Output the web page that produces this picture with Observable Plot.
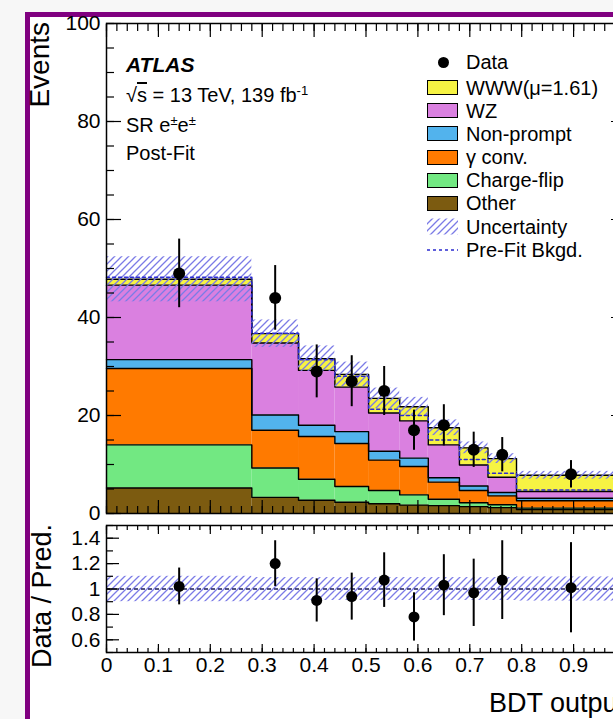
<!DOCTYPE html>
<html><head><meta charset="utf-8">
<script src="https://cdn.jsdelivr.net/npm/d3@7"></script>
<script src="https://cdn.jsdelivr.net/npm/@observablehq/plot@0.6"></script>
<style>
html,body{margin:0;padding:0;overflow:hidden;background:#f7f7f7;}
#page{position:relative;width:613px;height:719px;overflow:hidden;font-family:"Liberation Sans",Arial,Helvetica,sans-serif;color:#000;}
#border{position:absolute;left:25px;top:12px;width:800px;height:900px;border-left:5px solid #800080;border-top:5px solid #800080;background:#fff;}
.t{position:absolute;white-space:nowrap;line-height:0;}
.sw{position:absolute;box-sizing:border-box;border:1.5px solid #000;}
sup{font-size:65%;vertical-align:0;position:relative;top:-0.55em;line-height:0;}
</style></head><body>
<div id="page">
<div id="border"></div>
<svg width="0" height="0" style="position:absolute;left:0;top:0">
 <defs><pattern id="hatch" patternUnits="userSpaceOnUse" width="7" height="7">
  <path d="M0,7L7,0M-1,1L1,-1M6,8L8,6" stroke="#7b7be6" stroke-width="1.3" fill="none"/>
 </pattern></defs>
</svg>
</div>
<script>
// ---- data ----
const binEdges = [0, 0.28, 0.37, 0.44, 0.505, 0.565, 0.62, 0.68, 0.735, 0.79, 1.0];
const components = ["Other", "Charge-flip", "γ conv.", "Non-prompt", "WZ", "WWW(μ=1.61)"];
const compColors = ["#7c5b10", "#72e882", "#ff7a00", "#52b3ed", "#da80e0", "#f6f343"];
const other      = [5.2, 3.3, 2.7, 2.3, 2.0, 1.7, 1.6, 1.4, 1.2, 0.8];
const chargeFlip = [8.8, 6.0, 4.3, 3.2, 2.7, 2.1, 1.3, 0.8, 0.6, 0.3];
const gammaConv  = [15.6, 7.7, 8.7, 8.8, 6.2, 5.8, 3.5, 2.5, 1.8, 1.5];
const nonPrompt  = [1.8, 3.1, 2.3, 2.4, 1.8, 1.7, 0.9, 0.9, 0.7, 0.5];
const wz         = [15.2, 14.7, 11.2, 9.1, 7.8, 7.6, 6.7, 4.3, 3.1, 1.4];
const www        = [1.2, 1.9, 2.4, 2.6, 3.0, 2.9, 3.5, 3.5, 3.8, 3.3];
const dataEvents = [49, 44, 29, 27, 25, 17, 18, 13, 12, 8];
const dataErr    = [7.0, 6.6, 5.4, 5.2, 5.0, 4.1, 4.2, 3.6, 3.5, 2.8];
const predUnc    = [4.6, 2.8, 2.6, 2.5, 2.1, 1.9, 1.6, 1.2, 1.0, 0.8];
const preFitBkg  = [48.2, 36.8, 31.4, 28.0, 21.3, 20.0, 15.0, 11.0, 8.2, 4.8];
const ratioVals  = [1.02, 1.20, 0.91, 0.94, 1.07, 0.78, 1.03, 0.97, 1.07, 1.01];
const ratioErr   = [0.145, 0.18, 0.17, 0.185, 0.215, 0.19, 0.24, 0.265, 0.31, 0.355];
const ratioUnc   = [0.10, 0.09, 0.09, 0.09, 0.09, 0.09, 0.09, 0.09, 0.09, 0.095];
const ratioRef   = [1];
const xMajor = [0, 0.1, 0.2, 0.3, 0.4, 0.5, 0.6, 0.7, 0.8, 0.9, 1];
const xLabels = [0, 0.1, 0.2, 0.3, 0.4, 0.5, 0.6, 0.7, 0.8, 0.9];
const xMinor = d3.range(0, 1.001, 0.02);
const yMajor = [0, 20, 40, 60, 80, 100];
const yMinor = d3.range(0, 101, 5);
const rMajor = [0.6, 0.8, 1, 1.2, 1.4];
const rMinor = [0.5, 0.6, 0.7, 0.8, 0.9, 1.0, 1.1, 1.2, 1.3, 1.4, 1.5];

// ---- tables ----
const series = [other, chargeFlip, gammaConv, nonPrompt, wz, www];
const nb = dataEvents.length;
const stackRows = [];
for (let b = 0; b < nb; b++) for (let s = 0; s < series.length; s++)
  stackRows.push({x1: binEdges[b], x2: binEdges[b + 1], comp: components[s], value: series[s][b]});
const stepRows = [];
for (let e = 0; e <= nb; e++) { const b = Math.min(e, nb - 1);
  for (let s = 0; s < series.length; s++) stepRows.push({x: binEdges[e], comp: components[s], value: series[s][b]}); }
const prefitRows = binEdges.map((x, e) => ({x, y: preFitBkg[Math.min(e, nb - 1)]}));
const bins = d3.range(nb).map(b => ({
  x1: binEdges[b], x2: binEdges[b + 1], xc: (binEdges[b] + binEdges[b + 1]) / 2,
  total: d3.sum(series, s => s[b]), unc: predUnc[b],
  data: dataEvents[b], err: dataErr[b],
  ratio: ratioVals[b], rErr: ratioErr[b], rUnc: ratioUnc[b]
}));

const FONT = '"Liberation Sans", Arial, Helvetica, sans-serif';
const W = 640;
function ticksIn(scale, anchor, ticks, size, extra = {}) {
  const ax = scale === "x" ? Plot.axisX : Plot.axisY;
  return ax({anchor, ticks, tickSize: -size, fill: "none", stroke: "black", strokeWidth: 1.2, label: null, ...extra});
}

const mainPlot = Plot.plot({
  width: W, height: 519,
  marginLeft: 106, marginRight: 15, marginTop: 23, marginBottom: 6,
  x: {domain: [0, 1]},
  y: {domain: [0, 100]},
  color: {domain: components, range: compColors},
  marks: [
    Plot.rectY(stackRows, {x1: "x1", x2: "x2", y: "value", fill: "comp"}),
    Plot.lineY(stepRows, Plot.stackY2({x: "x", y: "value", z: "comp", curve: "step-after", stroke: "black", strokeWidth: 1.4})),
    Plot.rect(bins, {x1: "x1", x2: "x2", y1: d => d.total - d.unc, y2: d => d.total + d.unc, fill: "url(#hatch)"}),
    Plot.line(prefitRows, {x: "x", y: "y", curve: "step-after", stroke: "#2b2bd0", strokeWidth: 1.5, strokeDasharray: "3,3"}),
    Plot.ruleX(bins, {x: "xc", y1: d => d.data - d.err, y2: d => d.data + d.err, stroke: "black", strokeWidth: 2}),
    Plot.dot(bins, {x: "xc", y: "data", r: 6, fill: "black"}),
    Plot.axisY({anchor: "left", ticks: yMajor, tickSize: 0, tickPadding: 6, tickFormat: d => String(d), label: null, fontSize: 21}),
    ticksIn("y", "left", yMajor, 15), ticksIn("y", "left", yMinor, 8),
    ticksIn("y", "right", yMajor, 15), ticksIn("y", "right", yMinor, 8),
    ticksIn("x", "bottom", xMajor, 13), ticksIn("x", "bottom", xMinor, 7),
    ticksIn("x", "top", xMajor, 13), ticksIn("x", "top", xMinor, 7),
    Plot.frame({stroke: "black", strokeWidth: 1.5})
  ]
});

const ratioPlot = Plot.plot({
  width: W, height: 200,
  marginLeft: 106, marginRight: 15, marginTop: 6, marginBottom: 67,
  x: {domain: [0, 1]},
  y: {domain: [0.5, 1.5]},
  marks: [
    Plot.rect(bins, {x1: "x1", x2: "x2", y1: d => 1 - d.rUnc, y2: d => 1 + d.rUnc, fill: "url(#hatch)"}),
    Plot.ruleY(ratioRef, {stroke: "#1c1c55", strokeWidth: 1.5, strokeDasharray: "4,3"}),
    Plot.ruleX(bins, {x: "xc", y1: d => d.ratio - d.rErr, y2: d => d.ratio + d.rErr, stroke: "black", strokeWidth: 2}),
    Plot.dot(bins, {x: "xc", y: "ratio", r: 5.5, fill: "black"}),
    Plot.axisY({anchor: "left", ticks: rMajor, tickSize: 0, tickPadding: 6, tickFormat: d => String(d), label: null, fontSize: 21}),
    Plot.axisX({anchor: "bottom", ticks: xLabels, tickSize: 0, tickPadding: 5, tickFormat: d => String(d), label: null, fontSize: 21}),
    ticksIn("y", "left", rMajor, 13), ticksIn("y", "left", rMinor, 7),
    ticksIn("y", "right", rMajor, 13), ticksIn("y", "right", rMinor, 7),
    ticksIn("x", "bottom", xMajor, 8), ticksIn("x", "bottom", xMinor, 4),
    ticksIn("x", "top", xMajor, 8), ticksIn("x", "top", xMinor, 4),
    Plot.frame({stroke: "black", strokeWidth: 1.5})
  ]
});

const page = document.getElementById("page");
[[mainPlot, 0], [ratioPlot, 519]].forEach(([svg, top]) => {
  Object.assign(svg.style, {position: "absolute", left: "0px", top: top + "px", maxWidth: "none",
    background: "transparent", fontFamily: FONT, fontSize: "21px", color: "#000", overflow: "visible"});
  page.appendChild(svg);
});

// ---- annotations & legend ----
function txt(html, x, base, fs, extra = "") {
  const d = document.createElement("div");
  d.className = "t";
  d.style.cssText = `left:${x}px;top:${base - 0.3465 * fs}px;font-size:${fs}px;${extra}`;
  d.innerHTML = html;
  page.appendChild(d);
  return d;
}
function vtxt(html, xBase, yEnd, fs) {
  const w = 300;
  const d = document.createElement("div");
  d.className = "t";
  d.style.cssText = `left:${xBase - 0.3465 * fs}px;top:${yEnd + w}px;width:${w}px;text-align:right;font-size:${fs}px;transform-origin:0 0;transform:rotate(-90deg);`;
  d.innerHTML = html;
  page.appendChild(d);
}
vtxt("Events", 50, 22, 28);
vtxt("Data / Pred.", 51, 524, 27);
txt("BDT output", 625, 712, 27, "transform:translateX(-100%);");

txt("<b><i>ATLAS</i></b>", 126, 72, 21);
txt('√<span style="text-decoration:overline">s</span> = 13 TeV, 139 fb<sup>-1</sup>', 126, 102, 20);
txt("SR e<sup>±</sup>e<sup>±</sup>", 126, 132, 20);
txt("Post-Fit", 126, 160, 20);

const legendRows = [62, 87.5, 110.5, 133.5, 157, 180, 203, 226.5, 250];
const legendLabels = ["Data", "WWW(μ=1.61)", "WZ", "Non-prompt", "γ conv.", "Charge-flip", "Other", "Uncertainty", "Pre-Fit Bkgd."];
const legendFill = ["#f6f343", "#da80e0", "#52b3ed", "#ff7a00", "#72e882", "#7c5b10"];
legendLabels.forEach((lab, i) => txt(lab, 466, legendRows[i] + 7.2, 20));
const dm = document.createElement("div");
dm.style.cssText = `position:absolute;left:${443 - 5.5}px;top:${legendRows[0] - 5.5}px;width:11px;height:11px;border-radius:50%;background:#000;`;
page.appendChild(dm);
legendFill.forEach((c, i) => {
  const s = document.createElement("div");
  s.className = "sw";
  s.style.cssText += `left:427px;top:${legendRows[i + 1] - 7.5}px;width:31px;height:15px;background:${c};`;
  page.appendChild(s);
});
const ns = "http://www.w3.org/2000/svg";
const lsv = document.createElementNS(ns, "svg");
lsv.setAttribute("width", 613); lsv.setAttribute("height", 719);
lsv.style.cssText = "position:absolute;left:0;top:0;pointer-events:none;";
lsv.innerHTML = `<rect x="427" y="${legendRows[7] - 8}" width="31" height="16" fill="url(#hatch)"/>
<line x1="427" x2="458" y1="${legendRows[8]}" y2="${legendRows[8]}" stroke="#2b2bd0" stroke-width="1.5" stroke-dasharray="3,3"/>`;
page.appendChild(lsv);
</script>
</body></html>
